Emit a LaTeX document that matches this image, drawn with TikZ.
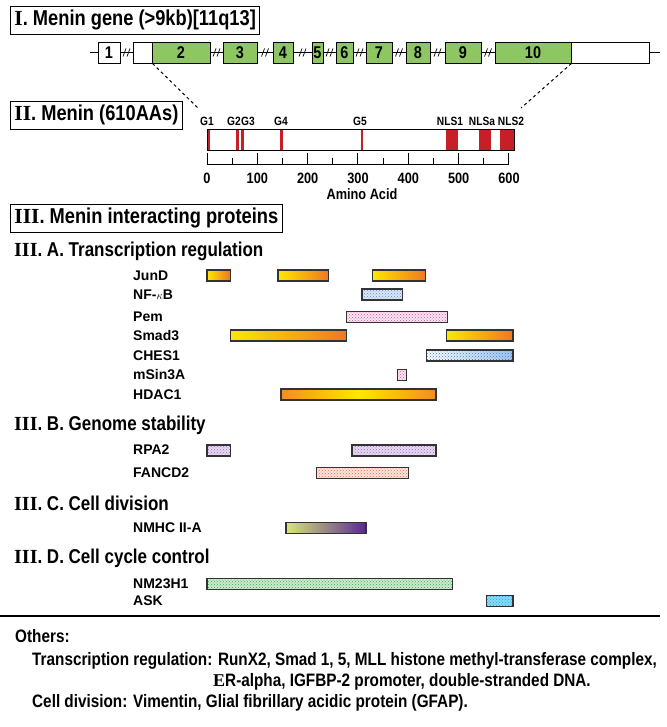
\documentclass[tikz,border=0pt]{standalone}
\usepackage{fontspec}
\setmainfont{Liberation Sans}
\newfontfamily\condfont{Liberation Sans}[FakeStretch=0.85]
\newfontfamily\romfont{Liberation Serif}
\usetikzlibrary{positioning,patterns}

\definecolor{exongreen}{RGB}{141,198,99}
\definecolor{menred}{RGB}{200,30,40}
\definecolor{junyel}{RGB}{255,232,0}
\definecolor{junorg}{RGB}{240,118,35}
\definecolor{hdacorg}{RGB}{245,140,30}
\definecolor{nffill}{RGB}{218,232,250}
\definecolor{nfdot}{RGB}{90,140,210}
\definecolor{chesdot}{RGB}{60,120,200}
\definecolor{chesblue}{RGB}{160,200,240}
\definecolor{pemfill}{RGB}{250,228,242}
\definecolor{pemdot}{RGB}{215,90,160}
\definecolor{rpafill}{RGB}{232,218,242}
\definecolor{rpadot}{RGB}{150,110,190}
\definecolor{fancfill}{RGB}{252,228,218}
\definecolor{fancdot}{RGB}{235,110,80}
\definecolor{nmfill}{RGB}{205,236,205}
\definecolor{nmdot}{RGB}{60,160,80}
\definecolor{askfill}{RGB}{140,218,245}
\definecolor{askdot}{RGB}{30,165,220}
\definecolor{myoleft}{RGB}{215,230,120}
\definecolor{myoright}{RGB}{88,40,150}

\newcommand{\rn}[1]{{\romfont\bfseries #1}}
\newcommand{\pbar}[4]{\draw[bar,#4] ({207+0.5033*#2},#1-5.5) rectangle ({207+0.5033*#3},#1+5.5);}

\begin{document}
\begin{tikzpicture}[x=1pt,y=-1pt,
	hdr/.style={draw,line width=0.9pt,anchor=west,inner xsep=4pt,minimum height=28pt,font=\condfont\bfseries\fontsize{21.5}{21.5}\selectfont},
	sec/.style={anchor=west,inner sep=0pt,font=\condfont\bfseries\fontsize{20}{20}\selectfont},
	plab/.style={anchor=west,inner sep=0pt,font=\bfseries\fontsize{14}{14}\selectfont},
	exon/.style={draw,line width=0.9pt,fill=exongreen,inner sep=0pt,minimum height=21pt,font=\condfont\bfseries\fontsize{17}{17}\selectfont},
	utr/.style={exon,fill=white},
	glab/.style={font=\condfont\bfseries\fontsize{12}{12}\selectfont,inner sep=0pt},
	tlab/.style={font=\condfont\bfseries\fontsize{15}{15}\selectfont,inner sep=0pt},
	other/.style={anchor=west,inner sep=0pt,font=\condfont\bfseries\fontsize{18}{18}\selectfont},
	bar/.style={draw=black!80,line width=1.1pt},
	junbar/.style={left color=junyel,right color=junorg},
	hdacbar/.style={left color=hdacorg,right color=hdacorg,middle color=junyel},
	nfbar/.style={preaction={fill=nffill},pattern=crosshatch dots,pattern color=nfdot},
	chesbar/.style={preaction={left color=white,right color=chesblue},pattern=crosshatch dots,pattern color=chesdot},
	pembar/.style={preaction={fill=pemfill},pattern=crosshatch dots,pattern color=pemdot},
	rpabar/.style={preaction={fill=rpafill},pattern=crosshatch dots,pattern color=rpadot},
	fancbar/.style={preaction={fill=fancfill},pattern=crosshatch dots,pattern color=fancdot},
	myobar/.style={left color=myoleft,right color=myoright},
	nmbar/.style={preaction={fill=nmfill},pattern=crosshatch dots,pattern color=nmdot},
	askbar/.style={preaction={fill=askfill},pattern=crosshatch dots,pattern color=askdot},
	brk/.pic={\draw[line width=0.7pt] (-3.5,4) -- (-0.5,-4) (0.5,4) -- (3.5,-4);}]
	\useasboundingbox (0,0) rectangle (666,727);

	% I. gene
	\node[hdr] (hgene) at (10,20) {\rn{I}. Menin gene (>9kb)[11q13]};
	\node[utr,minimum width=22pt] (e1) at (109,52.5) {1};
	\node[utr,minimum width=19pt] (u2) at (142.5,52.5) {};
	\foreach \n/\a/\b in {2/152/210,3/223/257,4/273/293,5/312/323,6/336/353,7/366/392,8/406/430,9/445/481,10/495/571}
		\node[exon,minimum width=\b-\a] (e\n) at ({(\a+\b)/2},52.5) {\n};
	\node[utr,minimum width=78pt] (u10) at (610,52.5) {};
	\coordinate (gl) at (90,52.5);
	\coordinate (gr) at (660,52.5);
	\draw[line width=0.9pt] (gl) -- (e1.west) (u10.east) -- (gr);
	\foreach \p/\q in {e1/u2,e2/e3,e3/e4,e4/e5,e5/e6,e6/e7,e7/e8,e8/e9,e9/e10}{
		\draw[line width=0.9pt] (\p.east) -- (\q.west) coordinate[midway] (m);
		\pic at (m) {brk};
	}

	% II. protein
	\node[hdr] (hmen) at (10,115) {\rn{II}. Menin (610AAs)};
	\foreach \a/\b in {0/6,58/63,67/73,146/151,305/309,475/498,541/564,582/610}
		\fill[menred] ({207+0.5033*\a},129) rectangle ({207+0.5033*\b},150);
	\node[draw,line width=1.1pt,minimum width=307pt,minimum height=21pt,anchor=north west,inner sep=0pt] (menin) at (207,129) {};
	\coordinate (dl) at (199,109);
	\coordinate (dr) at (521,108);
	\draw[dashed,line width=1pt] (u2.south east) -- (dl);
	\draw[dashed,line width=1pt] (e10.south east) -- (dr);
	\foreach \t/\x in {G1/207,G2/234,G3/248,G4/281,G5/360,NLS1/450,NLSa/482,NLS2/511}
		\node[glab] (l\t) at (\x,121) {\t};
	\draw[line width=1pt] (207,165) -- (509,165);
	\foreach \a in {0,100,...,600}{
		\draw[line width=1pt] ({207+0.5033*\a},153) -- ({207+0.5033*\a},165);
		\node[tlab] (t\a) at ({207+0.5033*\a},178) {\a};
	}
	\foreach \a in {50,150,...,550}
		\draw[line width=1pt] ({207+0.5033*\a},158) -- ({207+0.5033*\a},165);
	\node[tlab] (aalab) at (362,194) {Amino Acid};

	% III. partners
	\node[hdr] (hint) at (10,218) {\rn{III}. Menin interacting proteins};
	\node[sec] (sa) at (14,251) {\rn{III}. A. Transcription regulation};
	\foreach \n/\t/\y in {junD/JunD/275.5,nfkb/NF-{\fontsize{11}{11}\selectfont$\kappa$}B/294.5,pem/Pem/317,smad/Smad3/335.5,ches/CHES1/355.5,msin/mSin3A/375,hdac/HDAC1/394.5}
		\node[plab] (\n) at (133,\y) {\t};
	\pbar{275.5}{0}{46}{junbar}
	\pbar{275.5}{141}{242}{junbar}
	\pbar{275.5}{328}{435}{junbar}
	\pbar{294.5}{308}{388}{nfbar}
	\pbar{317}{278}{477}{pembar}
	\pbar{335.5}{46}{278}{junbar}
	\pbar{335.5}{475}{608}{junbar}
	\pbar{355.5}{437}{608}{chesbar}
	\pbar{375}{378}{397}{pembar}
	\pbar{394.5}{147}{455}{hdacbar}

	\node[sec] (sb) at (14,425) {\rn{III}. B. Genome stability};
	\node[plab] (rpa) at (133,450) {RPA2};
	\node[plab] (fanc) at (133,473) {FANCD2};
	\pbar{450.5}{0}{46}{rpabar}
	\pbar{450.5}{288}{455}{rpabar}
	\pbar{473}{217}{400}{fancbar}

	\node[sec] (sc) at (14,503) {\rn{III}. C. Cell division};
	\node[plab] (nmhc) at (133,528) {NMHC II-A};
	\pbar{528}{157}{316}{myobar}

	\node[sec] (sd) at (14,558) {\rn{III}. D. Cell cycle control};
	\node[plab] (nm23) at (133,584) {NM23H1};
	\node[plab] (ask) at (133,601) {ASK};
	\pbar{584}{0}{487}{nmbar}
	\pbar{601}{556}{608}{askbar}

	\draw[line width=2.2pt] (0,616) -- (660,616);

	% others
	\node[other] (oth) at (15,636) {Others:};
	\node[other] (otr) at (32,661) {Transcription regulation: RunX2, Smad 1, 5, MLL histone methyl-transferase complex,};
	\node[other] (otr2) at (213,682) {{\romfont E}R-alpha, IGFBP-2 promoter, double-stranded DNA.};
	\node[other] (ocd) at (32,703) {Cell division: Vimentin, Glial fibrillary acidic protein (GFAP).};
\end{tikzpicture}
\end{document}
